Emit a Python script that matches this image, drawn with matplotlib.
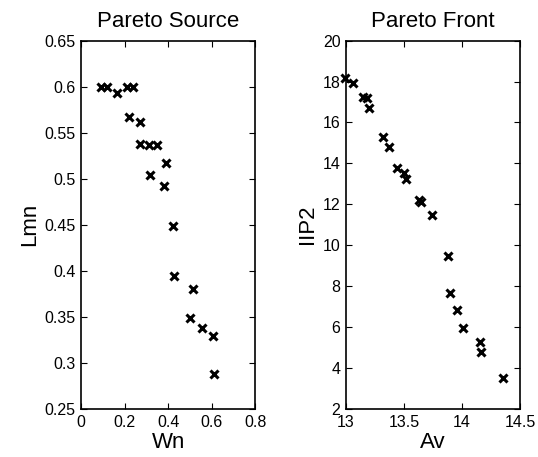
import matplotlib
matplotlib.use("Agg")
import matplotlib.pyplot as plt

plt.rcParams['font.family'] = ['Liberation Sans', 'DejaVu Sans']

# Pareto source (decision space)
wn = [0.09, 0.12, 0.165, 0.21, 0.24, 0.22, 0.27, 0.27, 0.311, 0.35,
      0.39, 0.314, 0.38, 0.42, 0.426, 0.514, 0.499, 0.555, 0.606, 0.608]
lmn = [0.600, 0.600, 0.593, 0.600, 0.600, 0.567, 0.562, 0.538, 0.537, 0.537,
       0.517, 0.504, 0.492, 0.448, 0.394, 0.380, 0.348, 0.338, 0.329, 0.288]

# Pareto front (objective space)
av = [12.99, 13.063, 13.144, 13.179, 13.199, 13.317, 13.375, 13.439, 13.496, 13.519,
      13.626, 13.649, 13.74, 13.88, 13.90, 13.96, 14.006, 14.153, 14.168, 14.355]
iip2 = [18.19, 17.91, 17.26, 17.18, 16.72, 15.31, 14.82, 13.76, 13.51, 13.25,
        12.21, 12.11, 11.46, 9.46, 7.67, 6.81, 5.92, 5.26, 4.77, 3.50]

fig = plt.figure(figsize=(5.38, 4.57), dpi=100)
ax1 = fig.add_axes([0.1506, 0.1061, 0.3243, 0.8048])
ax2 = fig.add_axes([0.6431, 0.1061, 0.3234, 0.8048])


def style(ax):
    ax.tick_params(direction='in', top=True, right=True, length=4, labelsize=11.5,
                   width=0.8)
    ax.tick_params(axis='x', pad=5)
    ax.tick_params(axis='y', pad=4)
    for s in ax.spines.values():
        s.set_linewidth(1.2)


ax1.plot(wn, lmn, 'kx', markersize=5.5, mew=2.2, clip_on=False)
ax1.set_xlim(0, 0.8)
ax1.set_ylim(0.25, 0.65)
ax1.set_xticks([0, 0.2, 0.4, 0.6, 0.8])
ax1.set_xticklabels(['0', '0.2', '0.4', '0.6', '0.8'])
ax1.set_yticks([0.25, 0.3, 0.35, 0.4, 0.45, 0.5, 0.55, 0.6, 0.65])
ax1.set_yticklabels(['0.25', '0.3', '0.35', '0.4', '0.45', '0.5', '0.55', '0.6', '0.65'])
ax1.set_title('Pareto Source', fontsize=16, pad=10)
ax1.set_xlabel('Wn', fontsize=16, labelpad=1)
ax1.set_ylabel('Lmn', fontsize=16, labelpad=3)
style(ax1)

ax2.plot(av, iip2, 'kx', markersize=5.5, mew=2.2, clip_on=False)
ax2.set_xlim(13, 14.5)
ax2.set_ylim(2, 20)
ax2.set_xticks([13, 13.5, 14, 14.5])
ax2.set_xticklabels(['13', '13.5', '14', '14.5'])
ax2.set_yticks(range(2, 21, 2))
ax2.set_title('Pareto Front', fontsize=16, pad=10)
ax2.set_xlabel('Av', fontsize=16, labelpad=1)
ax2.set_ylabel('IIP2', fontsize=16, labelpad=3)
style(ax2)

fig.savefig('out.png', dpi=100)
